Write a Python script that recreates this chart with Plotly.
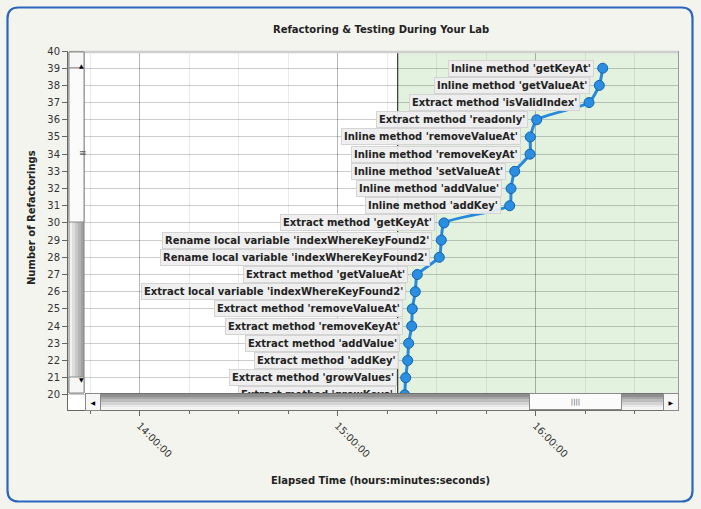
import plotly.graph_objects as go

DAY = "2024-01-01 "

# ---------------- data ----------------
counts = list(range(20, 40))
event_times = ["15:20:22", "15:20:40", "15:21:16", "15:21:34", "15:22:29",
               "15:22:40", "15:23:35", "15:24:11", "15:30:51", "15:31:27",
               "15:32:16", "15:52:11", "15:52:35", "15:53:42", "15:58:20",
               "15:58:25", "16:00:22", "16:16:13", "16:19:20", "16:20:22"]
event_labels = ["Extract method 'growKeys'",
                "Extract method 'growValues'",
                "Extract method 'addKey'",
                "Extract method 'addValue'",
                "Extract method 'removeKeyAt'",
                "Extract method 'removeValueAt'",
                "Extract local variable 'indexWhereKeyFound2'",
                "Extract method 'getValueAt'",
                "Rename local variable 'indexWhereKeyFound2'",
                "Rename local variable 'indexWhereKeyFound2'",
                "Extract method 'getKeyAt'",
                "Inline method 'addKey'",
                "Inline method 'addValue'",
                "Inline method 'setValueAt'",
                "Inline method 'removeKeyAt'",
                "Inline method 'removeValueAt'",
                "Extract method 'readonly'",
                "Extract method 'isValidIndex'",
                "Inline method 'getValueAt'",
                "Inline method 'getKeyAt'"]
lab_start = "15:18:15"
x_view = ["13:38:20", "16:43:11"]
y_view = [19.12, 40]
hour_ticks = ["14:00:00", "15:00:00", "16:00:00"]

title_text = "Refactoring & Testing During Your Lab"
x_title = "Elapsed Time (hours:minutes:seconds)"
y_title = "Number of Refactorings"

# ---------------- geometry helpers ----------------
W, H = 701, 509
L, R, T, B = 68, 23, 51, 99
PW, PH = W - L - R, H - T - B


def px(x):
    return (x - L) / PW


def py(y):
    return 1 - (y - T) / PH


FONT = "DejaVu Sans"
BG = "#f4f4ee"

xs = [DAY + t for t in event_times]

fig = go.Figure()
fig.add_trace(go.Scatter(
    x=xs, y=counts, mode="lines+markers",
    line=dict(color="#2689dc", width=3, shape="spline", smoothing=0.5),
    marker=dict(size=10, color="#2a8fe0", line=dict(color="#1462b4", width=1)),
    hoverinfo="skip", showlegend=False))

shapes = []
# lab period (green)
shapes.append(dict(type="rect", xref="x", yref="paper", x0=DAY + lab_start, x1=DAY + x_view[1],
                   y0=0, y1=1, fillcolor="#e2f2df", line=dict(width=0), layer="below"))
shapes.append(dict(type="line", xref="x", yref="paper", x0=DAY + lab_start, x1=DAY + lab_start,
                   y0=0, y1=py(52), line=dict(color="#111111", width=1), layer="above"))
# plot top / right border
shapes.append(dict(type="line", xref="paper", yref="paper", x0=px(69), x1=px(678), y0=py(52), y1=py(52),
                   line=dict(color="#cfcfcf", width=2.5), layer="above"))
shapes.append(dict(type="line", xref="paper", yref="paper", x0=px(678.5), x1=px(678.5), y0=py(51), y1=py(410),
                   line=dict(color="#9a9a9a", width=1), layer="above"))

# vertical scrollbar
vstripes = ["#f2f2f2", "#dedede", "#c8c8c8", "#b4b4b4", "#a0a0a0"]
for i, c in enumerate(vstripes):
    shapes.append(dict(type="rect", xref="paper", yref="paper", x0=px(69 + i * 3), x1=px(69 + (i + 1) * 3),
                       y0=py(393), y1=py(52), fillcolor=c, line=dict(width=0), layer="above"))
shapes.append(dict(type="rect", xref="paper", yref="paper", x0=px(69), x1=px(84), y0=py(393), y1=py(52),
                   fillcolor="rgba(0,0,0,0)", line=dict(color="#808080", width=1), layer="above"))
for (a, b_, c) in [(52, 68, "#f7f7f7"), (68, 222, "#fbfbfb"), (377, 393, "#f7f7f7")]:
    shapes.append(dict(type="rect", xref="paper", yref="paper", x0=px(69), x1=px(84), y0=py(b_), y1=py(a),
                       fillcolor=c, line=dict(color="#8a8a8a", width=1), layer="above"))

# outer rounded frame
x0f, y0f, x1f, y1f, rr = 7.5, 7.5, 692.5, 501.5, 11


def P(x, y):
    return f"{px(x):.5f},{py(y):.5f}"


frame = (f"M {P(x0f + rr, y0f)} L {P(x1f - rr, y0f)} Q {P(x1f, y0f)} {P(x1f, y0f + rr)} "
         f"L {P(x1f, y1f - rr)} Q {P(x1f, y1f)} {P(x1f - rr, y1f)} "
         f"L {P(x0f + rr, y1f)} Q {P(x0f, y1f)} {P(x0f, y1f - rr)} "
         f"L {P(x0f, y0f + rr)} Q {P(x0f, y0f)} {P(x0f + rr, y0f)} Z")
shapes.append(dict(type="path", xref="paper", yref="paper", path=frame,
                   line=dict(color="#2a66c0", width=2.2), layer="below"))

annotations = []
for x, y, t in zip(xs, counts, event_labels):
    annotations.append(dict(x=x, y=y, xref="x", yref="y", text=t, showarrow=False,
                            xanchor="right", yanchor="middle", xshift=-9,
                            font=dict(family=FONT, size=10, color="#222222", weight="bold"),
                            bgcolor="rgba(238,238,238,0.93)", bordercolor="#d4d4d4",
                            borderwidth=1, borderpad=2))

annotations.append(dict(x=px(381), y=py(29), xref="paper", yref="paper", text=title_text,
                        showarrow=False, xanchor="center", yanchor="middle",
                        font=dict(family=FONT, size=10, color="#222222", weight="bold")))
annotations.append(dict(x=px(381), y=py(480), xref="paper", yref="paper", text=x_title,
                        showarrow=False, xanchor="center", yanchor="middle",
                        font=dict(family=FONT, size=10, color="#222222", weight="bold")))
annotations.append(dict(x=px(31), y=py(218), xref="paper", yref="paper", text=y_title,
                        showarrow=False, xanchor="center", yanchor="middle", textangle=-90,
                        font=dict(family=FONT, size=10, color="#222222", weight="bold")))


def box(x0, y0, x1, y1, fill, text=" ", border=None, fsize=7, fcolor="#000000"):
    d = dict(x=px(x0), y=py(y0), xref="paper", yref="paper", xanchor="left", yanchor="top",
             showarrow=False, text=text, width=x1 - x0 - (2 if border else 0),
             height=y1 - y0 - (2 if border else 0), bgcolor=fill, borderpad=0,
             font=dict(family=FONT, size=fsize, color=fcolor), align="center", valign="middle")
    if border:
        d["bordercolor"] = border
        d["borderwidth"] = 1
    else:
        d["borderwidth"] = 0
    annotations.append(d)


# horizontal scrollbar (drawn as boxes on top so it hides the plot beneath it)
hstripes = ["#8e8e8e", "#a6a6a6", "#bdbdbd", "#d4d4d4", "#e8e8e8", "#f4f4f4"]
hs = 16 / len(hstripes)
for i, c in enumerate(hstripes):
    box(85, 394 + i * hs, 679, 394 + (i + 1) * hs + 0.6, c)
box(85, 393, 679, 411, "rgba(0,0,0,0)", border="#707070")
box(85, 393, 101, 411, "#f6f6f6", text="◀", border="#8a8a8a", fsize=6)
box(663, 393, 679, 411, "#f6f6f6", text="▶", border="#8a8a8a", fsize=6)
box(529, 393, 622, 410, "#fbfbfb", text="||||", border="#8a8a8a", fsize=7, fcolor="#555555")
# vertical scrollbar glyphs
annotations.append(dict(x=px(76.5), y=py(60), xref="paper", yref="paper", text="▲", showarrow=False,
                        font=dict(family=FONT, size=6, color="#000000")))
annotations.append(dict(x=px(76.5), y=py(385), xref="paper", yref="paper", text="▼", showarrow=False,
                        font=dict(family=FONT, size=6, color="#000000")))
annotations.append(dict(x=px(76.5), y=py(146), xref="paper", yref="paper", text="≡", showarrow=False,
                        font=dict(family=FONT, size=9, color="#555555")))

fig.update_layout(
    width=W, height=H, margin=dict(l=L, r=R, t=T, b=B, pad=0),
    paper_bgcolor=BG, plot_bgcolor="#ffffff",
    shapes=shapes, annotations=annotations, showlegend=False,
    xaxis=dict(type="date", range=[DAY + x_view[0], DAY + x_view[1]],
               tickvals=[DAY + t for t in hour_ticks], ticktext=hour_ticks,
               tickangle=45, ticks="outside", ticklen=5, tickcolor="#666666",
               tickfont=dict(family=FONT, size=10, color="#333333"),
               showgrid=True, gridcolor="rgba(0,0,0,0.22)", gridwidth=1,
               minor=dict(dtick=15 * 60 * 1000, tick0=DAY + "00:00:00", ticks="outside", ticklen=3,
                          tickcolor="#666666", showgrid=True, gridcolor="rgba(0,0,0,0.08)"),
               showline=True, linecolor="#666666", linewidth=1, zeroline=False, fixedrange=True),
    yaxis=dict(range=y_view, tickvals=list(range(20, 41)), ticks="outside", ticklen=5,
               tickcolor="#666666", tickfont=dict(family=FONT, size=10, color="#333333"),
               showgrid=True, gridcolor="rgba(0,0,0,0.2)", gridwidth=1,
               showline=True, linecolor="#666666", linewidth=1, zeroline=False, fixedrange=True),
)

fig.write_html("out.html", config={"displayModeBar": False})
